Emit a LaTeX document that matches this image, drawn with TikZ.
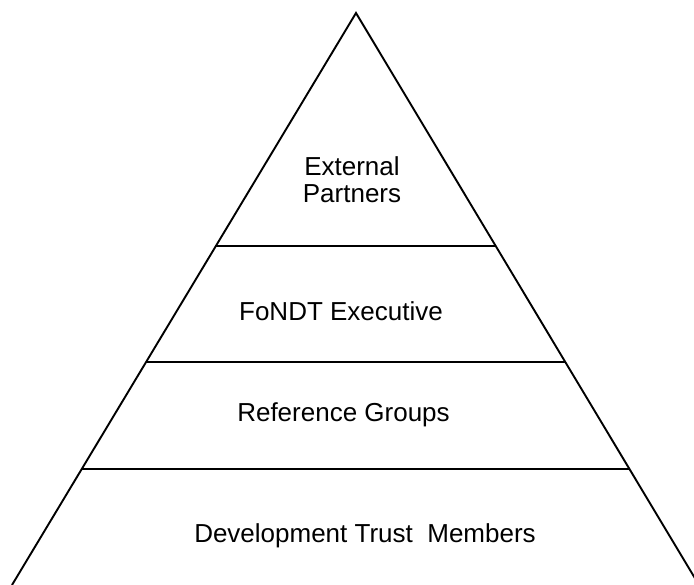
\documentclass[tikz,border=0pt]{standalone}
\usepackage{fontspec}
\setmainfont{Liberation Sans}
\usetikzlibrary{calc}
\begin{document}
\begin{tikzpicture}[x=1pt,y=-1pt,
  side/.style={line width=1.9pt,line join=miter},
  tier/.style={line width=1.4pt},
  label/.style={font=\fontsize{26}{27}\selectfont,inner sep=0pt,anchor=base,align=center}]
  \useasboundingbox[fill=white] (0,0) rectangle (694,585);
  \clip (0,0) rectangle (694,585);
  % outline of the pyramid; the base runs past the bottom edge
  \coordinate (apex) at (356,13);
  \coordinate (bl) at (12,585);
  \coordinate (br) at (699,585);
  \draw[side] (bl) -- (apex) -- (br);
  % dividing lines between the tiers
  \draw[tier] ($(apex)!0.4073!(bl)$) -- ($(apex)!0.4073!(br)$);
  \draw[tier] ($(apex)!0.6101!(bl)$) -- ($(apex)!0.6101!(br)$);
  \draw[tier] ($(apex)!0.7972!(bl)$) -- ($(apex)!0.7972!(br)$);
  % tier labels (a two-line node is anchored at its last baseline)
  \node[label] (ext) at (352,203) {External\\Partners};
  \node[label] (exec) at (341,321) {FoNDT Executive};
  \node[label] (ref) at (343.5,421) {Reference Groups};
  \node[label] (mem) at (365,542) {Development Trust\ \ Members};
\end{tikzpicture}
\end{document}
